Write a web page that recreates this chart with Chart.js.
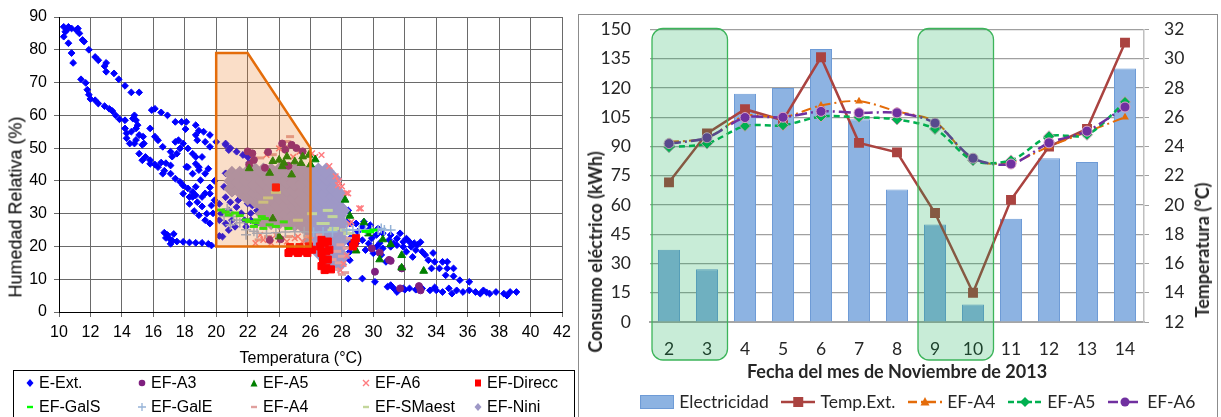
<!DOCTYPE html>
<html>
<head>
<meta charset="utf-8">
<script src="https://cdn.jsdelivr.net/npm/chart.js@4.4.1/dist/chart.umd.min.js"></script>
<style>
  body { margin: 0; width: 1221px; height: 417px; overflow: hidden; position: relative; background: #fff; }
  .rot { position: absolute; white-space: nowrap; transform: translate(-50%, -50%) rotate(-90deg); }
  .txt { position: absolute; white-space: nowrap; transform: translate(-50%, -50%); }
  #leftLegend { position: absolute; left: 13px; top: 370px; width: 560px; height: 60px; border: 1px solid #000;
                font: 16px "Liberation Sans", Arial, sans-serif; color: #000; }
  .lg { position: absolute; white-space: nowrap; height: 20px; line-height: 20px; }
  .lg svg { position: absolute; top: 5px; }
  #frame { position: absolute; left: 578px; top: 14px; width: 638px; height: 420px; border: 1px solid #8c8c8c; }
</style>
</head>
<body>
<div style="position:absolute; left:0; top:0;"><canvas id="scatter" width="577" height="370"></canvas></div>
<div class="rot" style="left:16px; top:207px; font:18px 'Liberation Sans', Arial, sans-serif;">Humedad Relativa (%)</div>
<div class="txt" style="left:301px; top:358px; font:16px 'Liberation Sans', Arial, sans-serif;">Temperatura (°C)</div>
<div id="leftLegend"></div>

<div id="frame"></div>
<div style="position:absolute; left:580px; top:0;"><canvas id="combo" width="679" height="417"></canvas></div>
<div class="rot" style="left:595px; top:252px; font:bold 18px Lato, sans-serif; color:#262626;">Consumo eléctrico (kWh)</div>
<div class="rot" style="left:1202px; top:250px; font:bold 18px Lato, sans-serif; color:#262626;">Temperatura (°C)</div>

<script>
// ===== Gráfico de dispersión: [temperatura °C, humedad relativa %] =====
const eExt = [
  [10.3,87],[10.4,85.5],[10.3,84],[10.6,87],[10.8,86.5],[11.1,86],[11.3,85],[11.2,86.5],[10.5,86],[10.6,82],[10.8,79],[10.9,76],
  [11.5,83],[11.6,82.5],[11.9,80],[12.3,77.8],[12.5,76.8],[13.0,76],[12.9,75],[13.0,73.3],[13.5,72.8],[13.8,71],[14.2,69],[14.6,67],[15.1,67],
  [11.4,71],[11.7,69.9],[11.8,67.8],[11.9,66.3],[12.0,65],[12.3,64.6],[12.5,63.6],[12.9,62.8],[13.2,62],[13.4,61.3],[13.6,60],[13.85,58.8],
  [14.2,58.5],[14.2,56],[14.3,54.5],[14.3,53],[14.5,51.4],[14.8,51.4],[14.8,60],[14.9,58.5],[15.0,57],[14.9,56],[15.1,54],[15.35,53.5],
  [15.4,51.4],[15.3,51],[14.7,59],[14.6,55],[14.9,52.5],
  [15.1,48.3],[15.5,47.3],[15.8,46.3],[16.1,45],[16.5,45.6],[16.8,45.4],[17.1,44.7],
  [15.9,61.6],[16.1,62],[16.5,60.9],[16.9,60],[15.8,56],[16.1,53.5],[16.3,52.4],[16.6,50.4],[17.1,48.9],[17.5,48.3],[17.7,49.9],[17.4,51.9],
  [17.6,52.4],[17.9,51.4],[18.2,49.9],[18.5,48.3],[18.7,47.3],
  [17.4,58],[17.8,58],[18.1,58],[18.7,57],[18.05,55.8],[18.7,54],[18.9,55.3],[19.2,55],[18.8,52.4],[19.3,51.9],[19.6,54],[19.6,50.4],
  [20.0,51.9],[20.6,51],[20.8,49.4],[21.3,48.9],[21.7,47.9],[22.0,47.3],[22.1,45.5],[20.6,51.4],[20.9,50],
  [15.3,46.3],[15.8,45.2],[16.3,44.2],[16.7,43.1],[16.6,42.2],[17.1,42.2],[17.4,40.7],[17.7,39.7],[17.9,38.6],[18.2,37.7],[18.5,36.6],
  [18.7,35.6],[19.1,35.1],[19.6,36.1],[17.9,36.1],[18.3,35.1],[19.0,40.2],[19.3,42.2],[19.5,43.7],[18.9,44.2],[18.7,45.2],[19.1,47.3],
  [18.2,44.2],[18.5,42.2],[17.2,47.4],[18.1,44.3],[18.9,43.3],[18.7,38.2],[19.3,36.2],[19.9,34.1],[18.5,35.1],[19.1,32.2],[19.8,30.1],
  [19.3,28],[20.2,28],[19.6,27],[20.4,23],[20.8,25],[21.2,26],[21.8,28],[22.2,30.1],[22.6,31],[21.4,34.1],[22.0,33.1],[21.0,36.2],
  [21.8,35.1],[20.8,31],[21.6,30.1],[22.2,28],[22.6,27],[20.5,38.2],[20.6,42.3],[21.0,39.7],[20.2,33],[20.6,35],[19.6,38],[19.9,40],
  [18.8,33.5],[19.4,30],[19.7,32.5],[21.0,28],[21.3,32],[20.3,30],[20.9,33.5],[21.5,37],[22.2,35.5],[22.3,32.5],[21.9,26],[20.6,27],
  [18.6,30.8],[18.9,29.5],[18.3,33],
  [16.7,24.2],[16.9,23.5],[16.8,22.6],[17.0,22.5],[17.2,21.8],[17.5,21.5],[17.9,21.4],[18.3,21.2],[18.7,21.1],[19.1,21.1],[19.5,20.8],
  [19.7,20.3],[17.3,23.8],[17.1,20.8],[20.2,23.2],
  [28.4,31],[28.3,27.5],[28.5,27],[28.9,27],[29.3,26],[29.7,25],[30.2,23.5],[30.6,24],[31.1,23.5],[31.5,22.4],[31.9,21.4],[32.3,21.4],
  [32.4,19.9],[32.1,18.4],[32.7,18.9],[33.1,18.4],[33.3,17.4],[33.5,15.8],[32.5,16.8],[28.7,22.9],[28.5,20.9],[28.9,20.9],[29.3,21.9],
  [29.7,20.9],[30.2,19.9],[30.6,19.4],[31.1,19.9],[31.5,20.4],[31.9,19.9],[29.5,18.9],[30.0,17.9],[30.5,17.4],[30.8,15.3],[28.5,18.4],
  [28.5,15.8],[28.6,22.9],[29.0,24.5],[29.4,27.5],[29.8,26.5],[30.3,25.5],[31.3,20.9],[31.7,24],[32.1,22.4],[32.8,20.5],[33.0,21.3],
  [31.0,22],[30.4,21],[29.9,22.5],[32.6,21],[33.8,18],
  [28.4,10.2],[29.3,10.2],[30.1,9.2],[33.9,15.3],[34.4,15.3],[34.7,15.3],[33.7,13.3],[34.2,13.3],[34.7,13.3],[35.1,13.3],[34.6,11.2],
  [35.1,10.9],[35.5,9.7],[36.1,9.2],
  [30.9,7.7],[31.1,8.2],[31.3,7.2],[31.5,6.1],[31.9,7.2],[32.3,7.2],[32.7,6.8],[33.1,7.2],[33.6,6.6],[34.0,6.6],[34.4,6.1],[34.8,7.2],
  [35.3,6.6],[35.7,6.1],[36.1,6.6],[36.5,6.1],[37.0,6.6],[37.4,5.6],[37.8,6.1],[38.3,5.6],[38.7,6.1],[39.1,6.1],[38.5,5.0],[36.8,5.6],
  [35.0,5.6],[33.9,7.5],[32.0,6.8],[37.2,6.0]
];
const efA3 = [
  [22.0,49],[22.3,48.4],[22.4,46.4],[22.1,45],[24.2,51.4],[24.8,51],[25.1,50],[24.4,49.5],[23.1,44],[24.6,44.6],[25.5,49],[23.3,48.8],
  [24.1,22.2],[23.4,22],[29.9,19.4],[30.1,12.3],[31.1,15.6],[31.8,13.3],[31.7,7.2],[32.9,7.9],[33.0,6.6],[30.4,18.1],[31.0,15.9]
];
const efA5 = [
  [22.1,43.8],[23.6,46],[24.0,46.4],[24.2,44.4],[24.5,47.4],[24.3,45.5],[25.5,47.4],[25.4,45.4],[25.9,47.9],[26.3,46.5],[23.4,42.4],
  [24.8,41.9],[25.0,45.9],[26.0,45],[28.5,29.3],[29.4,27.3],[29.7,23.9],[28.9,18.7],[30.4,16.0],[30.6,22.1],[31.1,20.6],[31.8,17.3],
  [31.8,13.5],[33.2,12.5],[28.2,34.2],[24.0,23],[23.6,28.5]
];
const efA6 = [
  [23.2,47.9],[24.0,49.9],[25.3,48.9],[26.1,48.4],[26.7,47.9],[27.6,41.4],[27.8,39.9],[28.3,36.3],[29.2,31.6],[28.0,38.3],[26.3,47.3],
  [24.9,47.3],[27.75,38.7],[28.4,36.2],[29.1,31.6],[28.6,27.5],[27.2,44.5],[28.5,26.8],
  [22.5,21],[23,22],[23.5,21],[24,22],[24.5,21.5],[25,22.5],[25.5,21.5],[26,22],[22.8,23.5],[23.8,23.5],[25.2,23],
  [28.1,14.7],[28.3,17.2],[27.9,12.7]
];
const efDirecc = [
  [24.6,18],[24.9,18.5],[25.2,18],[25.5,18.5],[25.8,18],[26.1,19],[24.7,19.8],[25.3,19.8],[25.9,20],[26.6,20],[26.7,22],[26.9,21],
  [27.1,21.5],[26.7,18],[27.0,18.5],[26.8,16],[27.1,16],[26.7,14],[27.0,13.5],[27.3,13],[26.9,12.8],[27.2,19],[28.8,21],[28.9,22.5],
  [28.7,20],[23.8,38]
];
const efGalS = [
  [20.3,31.1],[20.8,29.6],[21.9,28.1],[22.1,27.6],[22.6,28.1],[22.4,26.1],[23.4,26.6],[23.8,26.1],[22.9,29.1],[21.2,30.2],[21.5,29.4],
  [22.5,27.2],[23.1,28.5],[24.3,27.5],[24.6,25.5],[29.8,24.5],[30.0,25],[29.5,24.6],[20.6,30.5],[23.0,25.5]
];
const efGalE = [
  [20.8,30.6],[20.5,29.1],[21.1,29.1],[20.9,26.6],[21.3,28.1],[21.9,25.1],[22.4,24.6],[21.9,23.6],[20.7,31.5],[21.5,27.2],[22.6,24],
  [23.2,24],[23.8,24.2],[24.4,24.4],[25,24.5],[25.6,24.5],[26.2,24.3],[26.8,24.4],[27.4,24.5],[28.3,25],[28.7,25],[29.1,25],[29.5,25],
  [29.9,25],[30.3,25],[30.7,25],[31.1,25],[30.5,25.5]
];
const efA4 = [
  [24.7,53.5],[24.5,52],[24.2,50.5],[24.6,50.5],[23.6,48],[22.8,47],[27.6,13],[27.8,15],[28.0,17],[28.2,12],[27.7,18.5],[28.3,19.5],
  [28.0,11.5],[27.4,16],[22.7,22],[23.3,23],[24.6,23],[25.8,23],[26.6,23.5],[28.5,22.5],[27.9,20.5]
];
const efSMaest = [
  [26.9,27],[27.5,25.5],[28.5,24],[27.4,29.1],[26.7,27],[27.4,25],[28.2,25],[28.4,23.9],[23.3,34.8],[23.0,33.5],[23.8,36.5],[25.2,28],
  [26.1,30],[27.1,31]
];
// EF-Nini: por columna de temperatura, los valores de humedad leídos
const efNiniCols = [
  [21.0, [37.5, 40, 42]],
  [21.5, [37, 39.5, 42]],
  [22.0, [35, 37.5, 40, 42.5]],
  [22.5, [34, 36.5, 39, 41.5, 43]],
  [23.0, [27.5, 30, 32.5, 35, 37.5, 40, 42.5, 43]],
  [23.5, [27.5, 30, 32.5, 35, 37.5, 40, 42.5, 43]],
  [24.0, [27.5, 30, 32.5, 35, 37.5, 40, 42.5, 43]],
  [24.5, [27.5, 30, 32.5, 35, 37.5, 40, 42.5, 43]],
  [25.0, [27, 29.5, 32, 34.5, 37, 39.5, 42, 43]],
  [25.5, [26.5, 29, 31.5, 34, 36.5, 39, 41.5, 43]],
  [26.0, [22, 24.5, 27, 29.5, 32, 34.5, 37, 39.5, 42, 43]],
  [26.5, [18.5, 21, 23.5, 26, 28.5, 31, 33.5, 36, 38.5, 41, 43]],
  [27.0, [16, 18.5, 21, 23.5, 26, 28.5, 31, 33.5, 36, 38.5, 41, 43]],
  [27.5, [15, 17.5, 20, 22.5, 25, 27.5, 30, 32.5, 35, 37.5, 40.5]],
  [27.8, [14.5, 17, 19.5, 22, 24.5, 27, 29.5, 32, 34.5, 36]],
  [28.0, [17, 22, 27, 31]]
];
const efNini = efNiniCols.flatMap(c => c[1].map(h => [c[0], h]));

// zona de confort (polígono naranja)
const comfortT = [20, 20, 22, 26, 26];
const comfortHR = [20, 79, 79, 50, 20];

// ===== Gráfico de barras + líneas =====
const days = ['2', '3', '4', '5', '6', '7', '8', '9', '10', '11', '12', '13', '14'];
const electricidad = [37, 27, 117, 120, 140, 104, 68, 50, 9, 53, 84, 82, 130];
const tempExt = [21.55, 24.9, 26.55, 25.8, 30.1, 24.25, 23.6, 19.45, 14.0, 20.35, 24.0, 25.2, 31.1];
const a4Daily = [24.3, 24.6, 26.1, 26.0, 26.8, 27.1, 26.4, 25.7, 23.1, 22.9, 24.0, 25.0, 26.0];
const a5Daily = [23.95, 24.2, 25.4, 25.45, 26.05, 26.0, 25.85, 25.2, 23.05, 23.05, 24.7, 24.8, 27.05];
const a6Daily = [24.2, 24.6, 25.98, 26.0, 26.4, 26.3, 26.3, 25.6, 23.2, 22.8, 24.25, 25.05, 26.7];
const weekendDays = [['2', '3'], ['9', '10']]; // fines de semana resaltados

// ---------- gráfico izquierdo ----------
const leftFont = { family: "'Liberation Sans', Arial, sans-serif", size: 16 };

// orden de dibujo: de abajo hacia arriba
const leftSeries = [
  { label: 'E-Ext.', data: eExt, color: '#0000ff', style: 'rectRot', r: 3.4, bw: 1 },
  { label: 'EF-Nini', data: efNini, color: '#9e98c6', style: 'rectRot', r: 8.5, bw: 0 },
  { label: 'EF-SMaest', data: efSMaest, color: '#c3d69b', style: 'line', r: 5, bw: 3 },
  { label: 'EF-A4', data: efA4, color: '#e0a09e', style: 'line', r: 4, bw: 3 },
  { label: 'EF-A6', data: efA6, color: '#ff7c80', style: 'crossRot', r: 4, bw: 1.5 },
  { label: 'EF-A3', data: efA3, color: '#7f1f7f', style: 'circle', r: 3.5, bw: 1 },
  { label: 'EF-A5', data: efA5, color: '#008000', style: 'triangle', r: 4.5, bw: 1 },
  { label: 'EF-GalE', data: efGalE, color: '#95b3d7', style: 'cross', r: 5, bw: 1.5 },
  { label: 'EF-GalS', data: efGalS, color: '#00ff00', style: 'line', r: 4, bw: 3 },
  { label: 'EF-Direcc', data: efDirecc, color: '#ff0000', style: 'rect', r: 5, bw: 1 }
];
const legendOrder = ['E-Ext.', 'EF-A3', 'EF-A5', 'EF-A6', 'EF-Direcc', 'EF-GalS', 'EF-GalE', 'EF-A4', 'EF-SMaest', 'EF-Nini'];

// dibuja la zona de confort encima de los puntos
const comfortZone = {
  id: 'comfortZone',
  afterDatasetsDraw(chart) {
    const ctx = chart.ctx, x = chart.scales.x, y = chart.scales.y;
    ctx.save();
    ctx.beginPath();
    comfortT.forEach((t, i) => {
      const px = x.getPixelForValue(t), py = y.getPixelForValue(comfortHR[i]);
      if (i === 0) ctx.moveTo(px, py); else ctx.lineTo(px, py);
    });
    ctx.closePath();
    ctx.fillStyle = 'rgba(235,123,35,0.25)';
    ctx.fill();
    ctx.strokeStyle = '#e46c0a';
    ctx.lineWidth = 2.5;
    ctx.lineJoin = 'miter';
    ctx.stroke();
    ctx.restore();
  }
};

new Chart(document.getElementById('scatter'), {
  type: 'scatter',
  data: {
    datasets: leftSeries.map((s, i) => ({
      label: s.label,
      data: s.data.map(p => ({ x: p[0], y: p[1] })),
      pointStyle: s.style,
      pointRadius: s.r,
      pointHoverRadius: s.r,
      backgroundColor: s.color,
      borderColor: s.color,
      pointBorderWidth: s.bw,
      order: leftSeries.length - i
    }))
  },
  options: {
    responsive: false,
    animation: false,
    layout: { padding: { top: 17, right: 15, left: 0, bottom: 0 } },
    plugins: { legend: { display: false }, tooltip: { enabled: false } },
    scales: {
      x: {
        type: 'linear', min: 10, max: 42,
        ticks: { stepSize: 2, font: leftFont, color: '#000', padding: 6, maxRotation: 0 },
        grid: { color: '#6a6a6a', tickLength: 5 },
        border: { color: '#000' },
        afterFit: s => { s.height = 58; }
      },
      y: {
        min: 0, max: 90,
        ticks: { stepSize: 10, font: leftFont, color: '#000', padding: 7 },
        grid: { color: '#6a6a6a', tickLength: 5 },
        border: { color: '#000' },
        afterFit: s => { s.width = 59; }
      }
    }
  },
  plugins: [comfortZone]
});

// leyenda del gráfico izquierdo (recuadro con 2 filas x 5 columnas)
function markerSvg(style, color) {
  let shape = '';
  if (style === 'rectRot') shape = `<polygon points="5,1 8.5,5 5,9 1.5,5" fill="${color}"/>`;
  if (style === 'circle') shape = `<circle cx="5" cy="5" r="3.3" fill="${color}"/>`;
  if (style === 'triangle') shape = `<polygon points="5,1.5 8.5,8.5 1.5,8.5" fill="${color}"/>`;
  if (style === 'crossRot') shape = `<path d="M2,2 L8,8 M8,2 L2,8" stroke="${color}" stroke-width="1.4"/>`;
  if (style === 'rect') shape = `<rect x="2" y="1.5" width="6" height="7" fill="${color}"/>`;
  if (style === 'line') shape = `<path d="M2,5 L8,5" stroke="${color}" stroke-width="2.4"/>`;
  if (style === 'cross') shape = `<path d="M5,1 L5,9 M1,5 L9,5" stroke="${color}" stroke-width="1.3"/>`;
  return `<svg width="10" height="10" viewBox="0 0 10 10" style="left:-14px">${shape}</svg>`;
}
const leftLegend = document.getElementById('leftLegend');
legendOrder.forEach((name, i) => {
  const s = leftSeries.find(d => d.label === name);
  const col = i % 5, row = Math.floor(i / 5);
  const item = document.createElement('div');
  item.className = 'lg';
  item.style.left = (25 + col * 112) + 'px';
  item.style.top = (2 + row * 24) + 'px';
  item.innerHTML = markerSvg(s.style, s.color) + s.label;
  leftLegend.appendChild(item);
});

// ---------- gráfico derecho ----------
const rightFont = { family: 'Lato, sans-serif', size: 17.5 };

function legendIcon(kind, color, dash) {
  const c = document.createElement('canvas');
  c.width = 34; c.height = 14;
  const g = c.getContext('2d');
  if (kind === 'bar') {
    g.fillStyle = '#8db3e2'; g.fillRect(0.5, 0.5, 33, 13);
    g.strokeStyle = '#6e9bd6'; g.lineWidth = 1; g.strokeRect(0.5, 0.5, 33, 13);
    return c;
  }
  g.strokeStyle = color; g.lineWidth = 2.5; g.setLineDash(dash);
  g.beginPath(); g.moveTo(0, 7); g.lineTo(34, 7); g.stroke();
  g.setLineDash([]);
  g.fillStyle = color;
  g.beginPath();
  if (kind === 'rect') g.rect(12, 2, 10, 10);
  if (kind === 'triangle') { g.moveTo(17, 2); g.lineTo(21.5, 10.5); g.lineTo(12.5, 10.5); g.closePath(); }
  if (kind === 'rectRot') { g.moveTo(17, 2); g.lineTo(22, 7); g.lineTo(17, 12); g.lineTo(12, 7); g.closePath(); }
  if (kind === 'circle') g.arc(17, 7, 4.5, 0, Math.PI * 2);
  g.fill();
  return c;
}
const legendIcons = [
  legendIcon('bar'),
  legendIcon('rect', '#aa4340', []),
  legendIcon('triangle', '#e46c0a', [9, 4, 2, 4]),
  legendIcon('rectRot', '#00b050', [6, 3]),
  legendIcon('circle', '#7030a0', [10, 4, 2, 4])
];

// recuadros verdes de los fines de semana, encima de las series
const weekendBoxes = {
  id: 'weekendBoxes',
  afterDatasetsDraw(chart) {
    const ctx = chart.ctx, x = chart.scales.x, y = chart.scales.y;
    const half = x.width / days.length / 2;
    ctx.save();
    weekendDays.forEach(g => {
      const x0 = x.getPixelForValue(days.indexOf(g[0])) - half + 2;
      const x1 = x.getPixelForValue(days.indexOf(g[g.length - 1])) + half + 1.5;
      const y0 = y.getPixelForValue(y.max) - 1;
      const y1 = chart.chartArea.bottom + 38;
      ctx.beginPath();
      ctx.roundRect(x0, y0, x1 - x0, y1 - y0, 11);
      ctx.fillStyle = 'rgba(5,168,73,0.22)';
      ctx.fill();
      ctx.strokeStyle = '#3cb45a';
      ctx.lineWidth = 1.3;
      ctx.stroke();
    });
    ctx.restore();
  }
};

// leyenda un poco más baja
const legendFit = {
  id: 'legendFit',
  beforeInit(chart) {
    const fit = chart.legend.fit;
    chart.legend.fit = function () {
      fit.bind(chart.legend)();
      this.height -= 3.75;
    };
  }
};

new Chart(document.getElementById('combo'), {
  type: 'bar',
  data: {
    labels: days,
    datasets: [
      {
        label: 'Electricidad', data: electricidad, yAxisID: 'y', order: 5,
        backgroundColor: '#8db3e2', borderColor: '#6e9bd6', borderWidth: 1,
        barPercentage: 0.58, categoryPercentage: 1
      },
      {
        type: 'line', label: 'Temp.Ext.', data: tempExt, yAxisID: 'y1', order: 4,
        borderColor: '#aa4340', backgroundColor: '#aa4340', borderWidth: 2.5, tension: 0,
        pointStyle: 'rect', pointRadius: 7, pointBorderWidth: 0
      },
      {
        type: 'line', label: 'EF-A4', data: a4Daily, yAxisID: 'y1', order: 3,
        borderColor: '#e46c0a', backgroundColor: '#e46c0a', borderWidth: 2, borderDash: [10, 4, 2, 4], tension: 0.3,
        pointStyle: 'triangle', pointRadius: 4.5, pointBorderWidth: 0
      },
      {
        type: 'line', label: 'EF-A5', data: a5Daily, yAxisID: 'y1', order: 2,
        borderColor: '#00b050', backgroundColor: '#00b050', borderWidth: 2.5, borderDash: [6, 4], tension: 0.3,
        pointStyle: 'rectRot', pointRadius: 5.5, pointBorderColor: '#c9a3b6', pointBorderWidth: 1
      },
      {
        type: 'line', label: 'EF-A6', data: a6Daily, yAxisID: 'y1', order: 1,
        borderColor: '#7030a0', backgroundColor: '#7030a0', borderWidth: 2.5, borderDash: [12, 4, 2, 4], tension: 0.3,
        pointStyle: 'circle', pointRadius: 5, pointBorderColor: '#dba6c8', pointBorderWidth: 1
      }
    ]
  },
  options: {
    responsive: false,
    animation: false,
    layout: { padding: { top: 29, left: 0, right: 0, bottom: 0 } },
    plugins: {
      tooltip: { enabled: false },
      legend: {
        position: 'bottom',
        labels: {
          usePointStyle: true, pointStyleWidth: 27, padding: 16,
          color: '#262626', font: rightFont,
          generateLabels: chart => chart.data.datasets.map((ds, i) => ({
            text: ds.label, pointStyle: legendIcons[i], datasetIndex: i, hidden: false,
            fontColor: '#262626', lineWidth: 0, strokeStyle: 'transparent', fillStyle: 'transparent'
          }))
        }
      }
    },
    scales: {
      x: {
        grid: { display: false, drawTicks: false },
        border: { color: '#a6a6a6', width: 2 },
        ticks: { font: rightFont, color: '#262626', padding: 16.5 },
        title: {
          display: true, text: 'Fecha del mes de Noviembre de 2013',
          font: { family: 'Lato, sans-serif', size: 18, weight: 'bold' }, color: '#262626',
          padding: { top: 0, bottom: -6 }
        },
        afterFit: s => { s.height = 55.25; }
      },
      y: {
        position: 'left', min: 0, max: 150,
        ticks: { stepSize: 15, font: rightFont, color: '#262626', padding: 19 },
        grid: { color: '#a0a0a0', lineWidth: 1.2, drawTicks: false },
        border: { display: false },
        afterFit: s => { s.width = 70; }
      },
      y1: {
        position: 'right', min: 12, max: 32,
        ticks: { stepSize: 2, font: rightFont, color: '#262626', padding: 15 },
        grid: { drawOnChartArea: false, drawTicks: true, tickLength: 5, color: '#a0a0a0' },
        border: { display: true, color: '#c0c0c0', width: 1.5 },
        afterFit: s => { s.width = 115; }
      }
    }
  },
  plugins: [weekendBoxes, legendFit]
});
</script>
</body>
</html>
